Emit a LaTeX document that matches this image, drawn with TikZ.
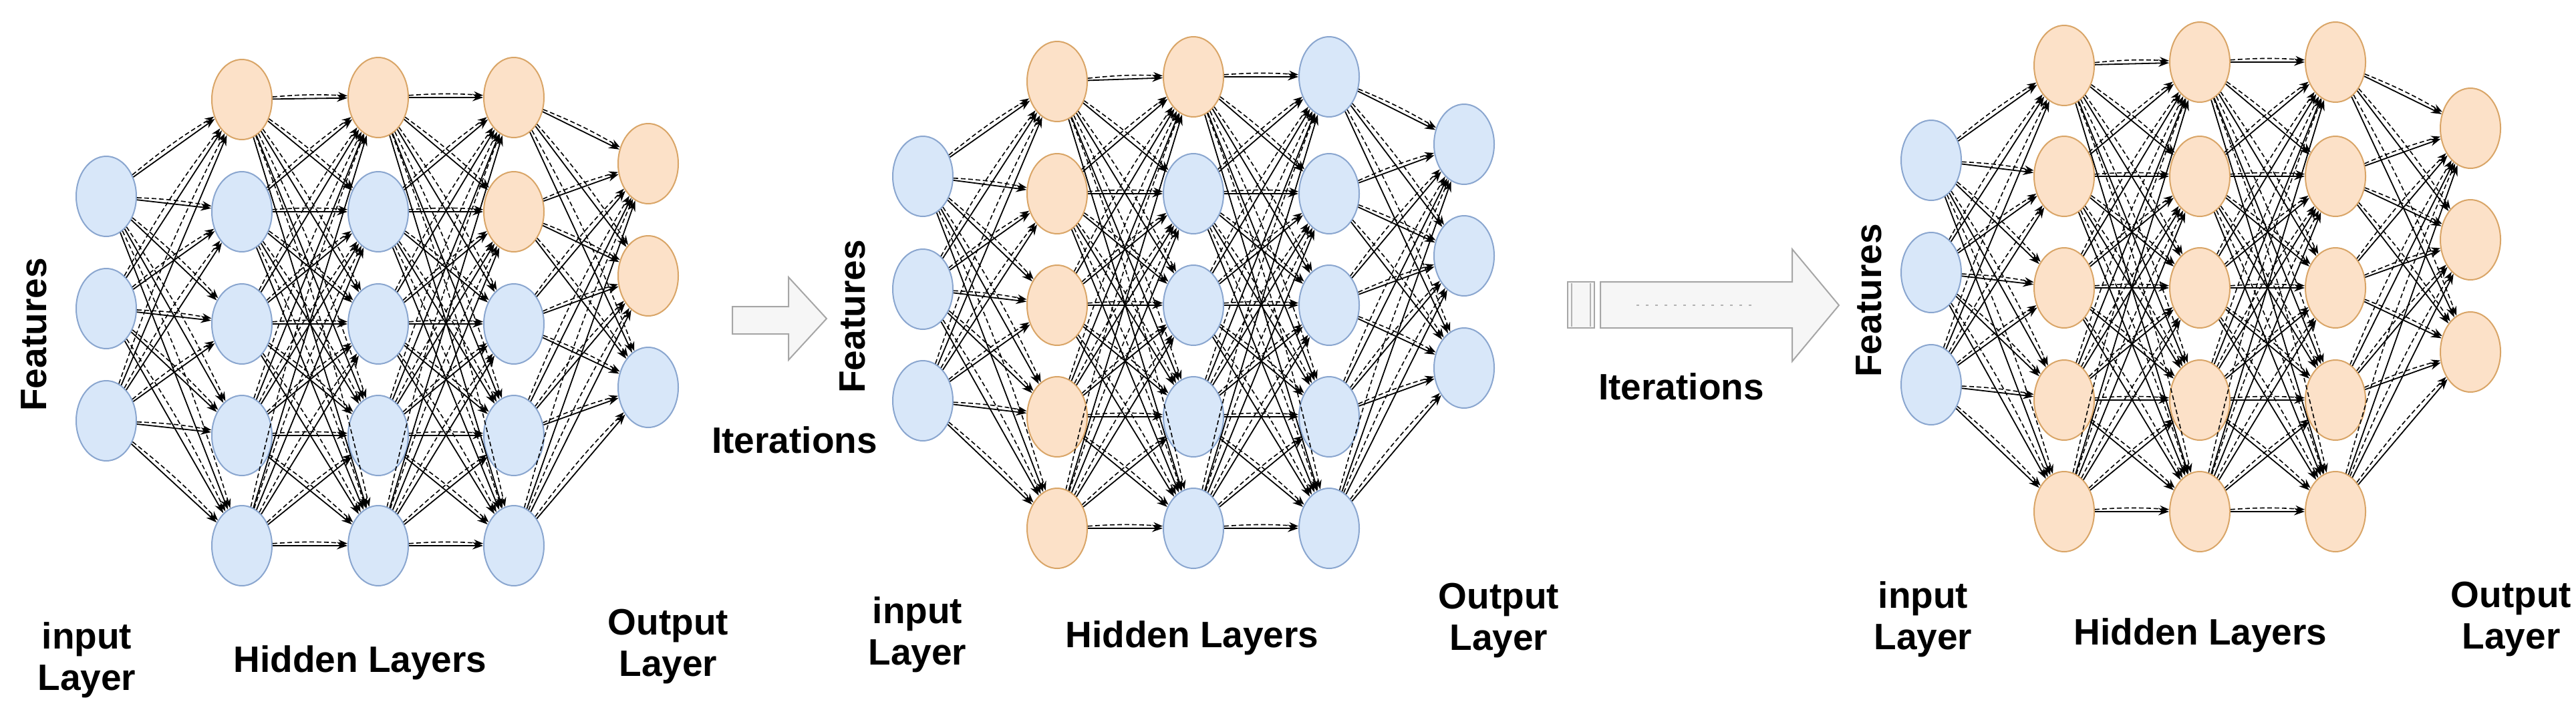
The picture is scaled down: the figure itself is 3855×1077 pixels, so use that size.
\documentclass[tikz,border=0pt]{standalone}
\usepackage{fontspec}
\setmainfont{Liberation Sans}
\usetikzlibrary{shapes.geometric,arrows.meta}
\definecolor{bfill}{HTML}{D8E7F9}\definecolor{bdraw}{HTML}{8AA6CF}
\definecolor{ofill}{HTML}{FCE1C8}\definecolor{odraw}{HTML}{D9A567}
\tikzset{
 neuron/.style={ellipse,minimum width=90pt,minimum height=120pt,inner sep=0pt,line width=2pt},
 B/.style={fill=bfill,draw=bdraw}, O/.style={fill=ofill,draw=odraw},
 sl/.style={line width=1.8pt,-{Stealth[length=16pt,width=11pt]}},
 dl/.style={line width=1.6pt,dashed,dash pattern=on 7pt off 4pt,-{Stealth[length=14pt,width=10pt]}},
 lab/.style={font=\bfseries\fontsize{55}{62}\selectfont,align=center,inner sep=0pt},
 bigarrow/.style={fill=gray!7,draw=gray!70,line width=2pt,line join=miter}
}
\newcommand\mklayer[3]{\foreach \y/\c [count=\i] in {#3} \node[neuron,\c] (#1\i) at (#2,\y) {};}
\newcommand\mkedges[4]{\foreach \i in {1,...,#2} \foreach \j in {1,...,#4} {\draw[dl] (#1\i) to[bend left=4] (#3\j); \draw[sl] (#1\i) -- (#3\j);}}
\begin{document}
\begin{tikzpicture}[x=1pt,y=-1pt]
\useasboundingbox (0,0) rectangle (3855,1077);
% ---------- Net 1
\mklayer{ai}{159}{294/B,462/B,630/B}
\mklayer{ah}{362}{149/O,317/B,485/B,652/B,817/B}
\mklayer{ak}{566}{146/O,317/B,485/B,652/B,817/B}
\mklayer{al}{769}{146/O,317/O,485/B,652/B,817/B}
\mklayer{ao}{970}{245/O,413/O,580/B}
\mkedges{ai}{3}{ah}{5}\mkedges{ah}{5}{ak}{5}\mkedges{ak}{5}{al}{5}\mkedges{al}{5}{ao}{3}
\node[lab,rotate=90] (af) at (51,501) {Features};
\node[lab] (ain) at (130,988) {input\\Layer};
\node[lab] (ahl) at (539,992) {Hidden Layers};
\node[lab] (aol) at (1000,968) {Output\\Layer};
% ---------- Arrow 1
\draw[bigarrow] (1096,459) -- (1180,459) -- (1180,415) -- (1237,477) -- (1180,539) -- (1180,500) -- (1096,500) -- cycle;
\node[lab] (it1) at (1189,659) {Iterations};
% ---------- Net 2
\mklayer{bi}{1381}{264/B,433/B,600/B}
\mklayer{bh}{1582}{122/O,290/O,457/O,624/O,791/O}
\mklayer{bk}{1786}{115/O,290/B,457/B,624/B,791/B}
\mklayer{bl}{1989}{115/B,290/B,457/B,624/B,791/B}
\mklayer{bo}{2191}{216/B,383/B,551/B}
\mkedges{bi}{3}{bh}{5}\mkedges{bh}{5}{bk}{5}\mkedges{bk}{5}{bl}{5}\mkedges{bl}{5}{bo}{3}
\node[lab,rotate=90] (bf) at (1276,474) {Features};
\node[lab] (bin) at (1373,950) {input\\Layer};
\node[lab] (bhl) at (1784,955) {Hidden Layers};
\node[lab] (bol) at (2243,929) {Output\\Layer};
% ---------- Arrow 2
\draw[bigarrow] (2346,422) rectangle (2386,491);
\draw[gray!60,line width=1.5pt] (2352,424) -- (2352,489) (2380,424) -- (2380,489);
\draw[bigarrow] (2395,422) -- (2682,422) -- (2682,373) -- (2752,457) -- (2682,541) -- (2682,491) -- (2395,491) -- cycle;
\draw[gray!60,line width=2pt,dash pattern=on 4pt off 10pt] (2449,457) -- (2628,457);
\node[lab] (it2) at (2516,579) {Iterations};
% ---------- Net 3
\mklayer{ci}{2890}{240/B,408/B,576/B}
\mklayer{ch}{3089}{98/O,264/O,431/O,599/O,766/O}
\mklayer{ck}{3292}{93/O,264/O,431/O,599/O,766/O}
\mklayer{cl}{3495}{93/O,264/O,431/O,599/O,766/O}
\mklayer{co}{3697}{192/O,359/O,527/O}
\mkedges{ci}{3}{ch}{5}\mkedges{ch}{5}{ck}{5}\mkedges{ck}{5}{cl}{5}\mkedges{cl}{5}{co}{3}
\node[lab,rotate=90] (cf) at (2797,450) {Features};
\node[lab] (cin) at (2878,927) {input\\Layer};
\node[lab] (chl) at (3293,951) {Hidden Layers};
\node[lab] (col) at (3758,927) {Output\\Layer};
\end{tikzpicture}
\end{document}
